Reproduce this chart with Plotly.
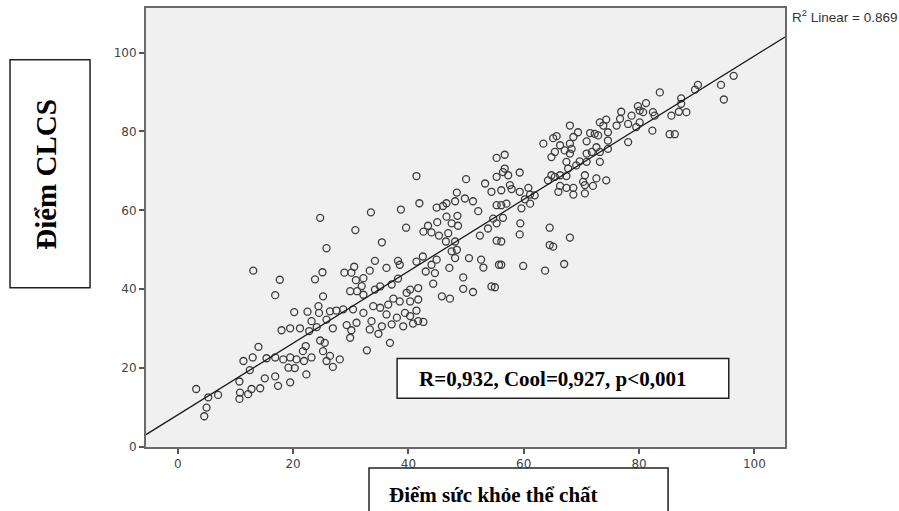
import numpy as np
import plotly.graph_objects as go

# Physical health score (x) and CLCS score (y)
phys = [
    13.1, 17.7, 16.9, 25.1, 23.8, 25.2, 28.9, 30.6, 30.1, 30.9, 29.9, 31.1, 20.2, 22.5, 24.4, 24.5, 26.4, 27.5,
    25.8, 23.2, 24.1, 22.8, 21.2, 19.5, 18.0, 26.9, 29.3, 31.0, 30.1, 24.7, 25.5, 25.2, 22.2, 21.7, 23.2, 28.1,
    26.4, 25.8, 26.9, 21.9, 20.6, 19.5, 18.3, 19.2, 20.3, 22.3, 16.9, 15.4, 14.0, 13.0, 11.4, 12.5, 15.1, 16.9,
    17.4, 19.5, 14.3, 12.8, 10.7, 10.8, 10.7, 12.2, 3.2, 5.3, 7.0, 5.0, 4.6,
    41.4, 50.0, 53.3, 55.3, 24.7, 33.5, 38.7, 41.9, 30.8, 39.6, 35.4, 25.8, 48.4, 49.8, 51.2, 48.1, 46.6, 44.9,
    46.0, 52.1, 54.4, 55.3, 48.5, 46.6, 45.0, 47.5, 48.6, 43.4, 42.6, 44.0, 45.3, 46.9, 52.4, 53.8, 55.3, 46.5,
    48.1, 47.5, 48.4, 48.1, 44.9, 42.5, 41.4, 50.5, 52.6, 53.0, 55.7, 47.1, 44.0, 43.0, 44.6, 49.5, 44.3, 41.7,
    49.5, 51.2, 54.4, 55.0, 45.8, 47.2, 38.2, 38.5, 36.2, 34.2, 33.3, 32.2, 31.9, 35.1, 37.1, 38.2, 34.2, 40.3,
    39.7, 41.7, 41.4, 40.3, 41.7, 42.6, 37.4, 38.5, 40.3, 32.2, 36.5, 35.1, 33.9, 32.2, 30.4, 28.7, 36.2, 38.0,
    39.4, 37.1, 35.4, 33.3, 33.6, 39.1, 40.8, 34.8, 36.8, 32.8, 29.9,
    83.6, 81.2, 79.8, 80.1, 80.7, 82.4, 82.7, 76.9, 78.7, 76.7, 74.3, 73.2, 76.1, 78.1, 80.1, 79.5, 82.3, 73.8,
    74.6, 72.3, 72.9, 71.5, 68.0, 69.4, 68.6, 65.7, 65.1, 63.4, 66.3, 68.0, 70.9, 74.6, 78.1, 72.6, 71.8, 73.2,
    74.6, 65.4, 67.1, 68.3, 64.8, 68.0, 70.9, 69.7, 73.2, 67.4, 70.9, 69.1, 67.7, 64.8, 65.4, 66.3, 67.4, 70.6,
    72.6, 74.3, 70.3, 64.2, 70.6, 72.0, 67.4, 68.6, 66.3, 66.0, 68.6, 70.6, 59.3, 55.3, 56.7, 56.7, 56.4, 57.3,
    56.1, 57.9, 57.6, 59.3, 60.8, 61.1, 60.2, 61.9, 56.1, 57.0, 59.6, 61.1, 54.7, 56.4, 55.3, 59.4, 59.3, 64.5,
    56.1, 68.0,
    96.4, 94.2, 94.7, 90.2, 89.7, 87.3, 87.3, 86.9, 88.2, 85.6, 85.3, 86.2,
    64.5, 65.1, 56.1, 59.9, 63.7, 67.0,
]
clcs = [
    44.7, 42.4, 38.5, 44.3, 42.5, 38.2, 44.2, 45.7, 44.2, 42.3, 39.5, 39.5, 34.2, 34.3, 35.7, 34.0, 34.4, 34.6,
    32.3, 31.9, 30.4, 29.4, 30.1, 30.1, 29.6, 30.1, 30.9, 31.5, 29.6, 27.0, 26.4, 24.3, 25.6, 24.3, 22.7, 22.2,
    23.1, 21.8, 20.3, 21.8, 22.2, 22.7, 22.2, 20.1, 20.0, 18.4, 22.7, 22.5, 25.4, 22.7, 21.8, 19.5, 17.4, 17.9,
    15.5, 16.4, 14.9, 14.7, 16.6, 13.8, 12.2, 13.4, 14.7, 12.6, 13.2, 10.0, 7.8,
    68.7, 67.9, 66.8, 68.5, 58.1, 59.5, 60.2, 61.8, 55.0, 55.6, 51.9, 50.4, 64.5, 63.0, 62.3, 62.3, 61.8, 60.7,
    61.1, 59.8, 64.7, 61.3, 58.6, 58.4, 57.0, 56.7, 56.1, 56.1, 54.6, 54.4, 53.6, 54.2, 53.6, 55.4, 52.3, 52.1,
    52.1, 49.6, 50.0, 47.9, 47.5, 48.3, 47.0, 47.9, 47.5, 45.5, 46.2, 45.4, 46.2, 44.5, 44.1, 43.0, 41.4, 40.3,
    40.1, 39.3, 40.7, 40.5, 38.2, 37.6, 47.2, 46.2, 45.4, 47.2, 44.7, 42.8, 40.8, 40.7, 41.2, 42.7, 39.9, 39.9,
    39.1, 37.4, 34.6, 33.2, 31.9, 31.7, 37.6, 36.9, 36.9, 38.6, 36.1, 35.3, 35.7, 34.0, 34.9, 34.9, 33.6, 32.8,
    34.0, 31.1, 30.6, 29.8, 31.9, 30.6, 31.3, 28.7, 26.4, 24.5, 27.7,
    89.9, 87.2, 86.4, 85.3, 84.9, 84.9, 84.0, 85.0, 84.0, 83.2, 83.0, 82.3, 81.5, 81.9, 82.3, 81.1, 80.2, 81.5,
    79.8, 79.4, 79.0, 79.6, 81.5, 79.8, 78.6, 78.8, 78.3, 76.9, 76.5, 76.9, 77.5, 77.7, 77.3, 76.0, 74.8, 74.8,
    75.6, 74.8, 75.2, 75.6, 73.5, 74.4, 74.4, 72.4, 72.3, 72.3, 72.3, 71.4, 70.6, 68.9, 68.5, 68.9, 68.7, 68.9,
    68.1, 67.6, 67.2, 67.6, 66.4, 66.2, 65.7, 65.7, 66.2, 64.7, 64.0, 64.3, 69.6, 73.3, 74.1, 70.6, 69.7, 68.9,
    65.1, 65.4, 66.4, 64.7, 65.7, 64.0, 62.8, 63.8, 61.3, 61.7, 60.5, 61.7, 57.9, 58.1, 56.7, 56.7, 53.9, 55.6,
    52.1, 53.1,
    94.1, 91.8, 88.1, 91.8, 90.6, 88.4, 87.0, 85.0, 84.9, 84.0, 79.3, 79.3,
    51.2, 50.8, 46.2, 45.9, 44.7, 46.4,
]

x_ticks = [0, 20, 40, 60, 80, 100]
y_ticks = [0, 20, 40, 60, 80, 100]
x_range = [-5.5, 105.3]
y_range = [0, 111.3]

x_title = "Điểm sức khỏe thể chất"
y_title = "Điểm CLCS"
stats_text = "R=0,932, Cool=0,927, p<0,001"
r2_text = "R<sup>2</sup> Linear = 0.869"

# linear fit through the points
slope, intercept = np.polyfit(np.array(phys), np.array(clcs), 1)
fit_x = np.array(x_range)
fit_y = intercept + slope * fit_x

fig = go.Figure()
fig.add_trace(go.Scatter(
    x=phys, y=clcs, mode="markers",
    marker=dict(symbol="circle-open", size=7, color="#3c3c3c", line=dict(width=1.3)),
    hoverinfo="skip", showlegend=False,
))
fig.add_trace(go.Scatter(
    x=fit_x, y=fit_y, mode="lines",
    line=dict(color="#1a1a1a", width=1.3),
    hoverinfo="skip", showlegend=False,
))

axis_common = dict(
    showgrid=False, zeroline=False, showline=True, mirror=True,
    linecolor="#6a6a6a", linewidth=2,
    ticks="outside", ticklen=5, tickwidth=1.5, tickcolor="#555555",
    tickfont=dict(family="DejaVu Sans, Verdana, sans-serif", size=12, color="#444444"),
)
fig.update_xaxes(range=x_range, tickvals=x_ticks, **axis_common)
fig.update_yaxes(range=y_range, tickvals=y_ticks, **axis_common)

serif = "Liberation Serif, Times New Roman, serif"
fig.update_layout(
    width=899, height=511,
    margin=dict(l=146, r=114, t=6, b=64),
    paper_bgcolor="white", plot_bgcolor="#f0f0f0",
    shapes=[
        # left y-label box
        dict(type="rect", xref="paper", yref="paper", x0=-0.2128, x1=-0.0876, y0=0.3628, y1=0.882,
             line=dict(color="#222222", width=1.5), fillcolor="white", layer="above"),
        # x-label box
        dict(type="rect", xref="paper", yref="paper", x0=0.349, x1=0.817, y0=-0.2, y1=-0.0476,
             line=dict(color="#222222", width=1.5), fillcolor="white", layer="above"),
        # stats box
        dict(type="rect", xref="paper", yref="paper", x0=0.393, x1=0.912, y0=0.111, y1=0.2018,
             line=dict(color="#222222", width=1.5), fillcolor="white", layer="above"),
    ],
    annotations=[
        dict(text="<b>" + y_title + "</b>", xref="paper", yref="paper", x=-0.1565, y=0.6224, textangle=-90,
             showarrow=False, xanchor="center", yanchor="middle",
             font=dict(family=serif, size=29, color="black")),
        dict(text="<b>" + x_title + "</b>", xref="paper", yref="paper", x=0.377, y=-0.109,
             showarrow=False, xanchor="left", yanchor="middle",
             font=dict(family=serif, size=21, color="black")),
        dict(text="<b>" + stats_text + "</b>", xref="paper", yref="paper", x=0.424, y=0.156,
             showarrow=False, xanchor="left", yanchor="middle",
             font=dict(family=serif, size=21, color="black")),
        dict(text=r2_text, xref="paper", yref="paper", x=1.008, y=0.982,
             showarrow=False, xanchor="left", yanchor="middle",
             font=dict(family="Liberation Sans, Arial, sans-serif", size=13.5, color="#333333")),
    ],
)

fig.write_html("out.html")
